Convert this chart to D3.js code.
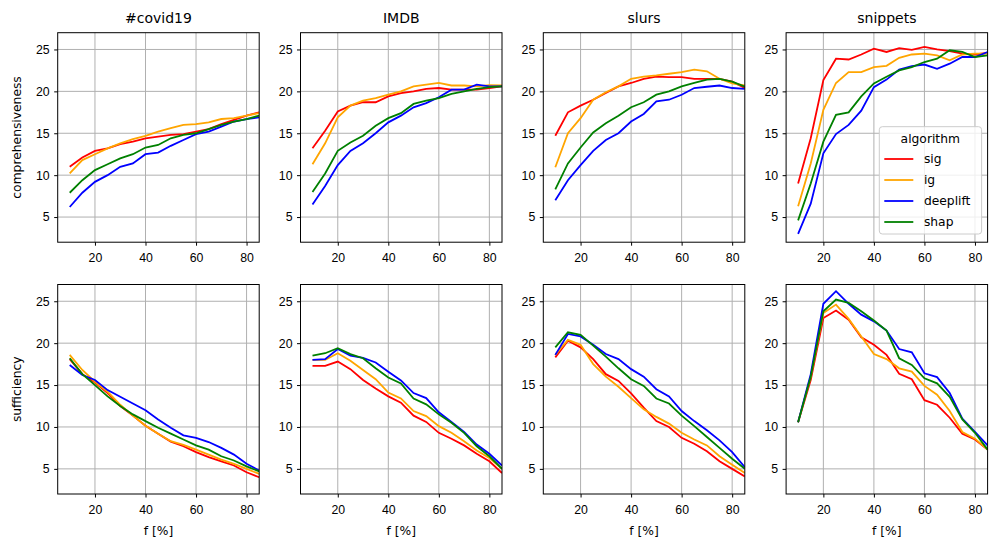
<!DOCTYPE html>
<html>
<head>
<meta charset="utf-8">
<script src="https://cdn.jsdelivr.net/npm/d3@7"></script>
<style>
  body { margin: 0; background: #fff; }
  svg { font-family: "DejaVu Sans", sans-serif; }
  .tick text { font-size: 12.3px; fill: #000; }
  .grid line { stroke: #b0b0b0; stroke-width: 1; }
  .curve { fill: none; stroke-width: 1.8; }
</style>
</head>
<body>
<svg id="graph"></svg>
<script>
var datasets = ['#covid19', 'IMDB', 'slurs', 'snippets'];
var metrics = ['comprehensiveness', 'sufficiency'];
var algorithms = ['sig', 'ig', 'deeplift', 'shap'];
var colors = ['red', 'orange', 'blue', 'green'];
var fValues = [10, 15, 20, 25, 30, 35, 40, 45, 50, 55, 60, 65, 70, 75, 80, 85];
var xTicks = [20, 40, 60, 80];
var yTicks = [5, 10, 15, 20, 25];

// comprehensiveness, one row per algorithm (sig, ig, deeplift, shap)
var compCovid = [
    [11.0, 12.1, 12.9, 13.2, 13.7, 14.0, 14.4, 14.6, 14.8, 14.9, 15.2, 15.5, 16.1, 16.6, 17.1, 17.5],
    [10.2, 11.8, 12.5, 13.2, 13.8, 14.3, 14.7, 15.2, 15.6, 16.0, 16.1, 16.3, 16.7, 16.8, 17.1, 17.4],
    [6.2, 7.9, 9.2, 10.0, 11.0, 11.4, 12.5, 12.7, 13.5, 14.2, 14.9, 15.2, 15.8, 16.4, 16.7, 16.9],
    [7.9, 9.4, 10.6, 11.3, 12.0, 12.5, 13.3, 13.6, 14.4, 14.8, 15.0, 15.5, 16.0, 16.4, 16.7, 17.1]
];
var compImdb = [
    [13.2, 15.3, 17.6, 18.3, 18.7, 18.7, 19.4, 19.8, 20.0, 20.3, 20.4, 20.2, 20.2, 20.2, 20.4, 20.6],
    [11.3, 13.8, 16.9, 18.3, 18.9, 19.2, 19.6, 20.0, 20.6, 20.8, 21.0, 20.7, 20.7, 20.6, 20.75, 20.7],
    [6.5, 8.7, 11.2, 12.9, 13.8, 15.0, 16.3, 17.1, 18.1, 18.6, 19.3, 20.2, 20.2, 20.8, 20.6, 20.6],
    [8.0, 10.2, 12.9, 13.9, 14.7, 15.9, 16.8, 17.4, 18.5, 18.9, 19.2, 19.7, 20.0, 20.3, 20.5, 20.6]
];
var compSlurs = [
    [14.7, 17.5, 18.3, 19.0, 19.8, 20.6, 21.0, 21.5, 21.75, 21.7, 21.7, 21.5, 21.5, 21.5, 21.15, 20.4],
    [10.95, 15.0, 16.8, 19.0, 19.9, 20.6, 21.5, 21.75, 21.9, 22.1, 22.3, 22.6, 22.4, 21.5, 20.95, 20.7],
    [7.0, 9.4, 11.2, 12.9, 14.2, 15.0, 16.4, 17.3, 18.8, 19.0, 19.6, 20.4, 20.55, 20.7, 20.4, 20.3],
    [8.3, 11.4, 13.3, 15.1, 16.2, 17.1, 18.1, 18.7, 19.6, 20.0, 20.6, 21.0, 21.4, 21.5, 21.15, 20.55]
];
var compSnippets = [
    [9.0, 14.4, 21.35, 23.9, 23.8, 24.4, 25.1, 24.7, 25.15, 24.95, 25.3, 25.0, 24.8, 24.5, 24.4, 24.6],
    [6.3, 11.4, 17.8, 21.0, 22.3, 22.3, 22.9, 23.05, 24.0, 24.4, 24.5, 24.3, 23.7, 24.4, 24.5, 24.5],
    [3.0, 6.6, 12.6, 14.9, 16.0, 17.7, 20.5, 21.4, 22.6, 23.0, 23.2, 22.7, 23.3, 24.1, 24.1, 24.7],
    [4.6, 9.0, 14.0, 17.2, 17.5, 19.4, 20.95, 21.75, 22.5, 22.9, 23.5, 23.9, 24.9, 24.7, 24.1, 24.3]
];

// sufficiency
var suffCovid = [
    [18.1, 16.3, 15.3, 14.05, 12.5, 11.35, 10.15, 9.2, 8.25, 7.7, 7.0, 6.4, 5.9, 5.4, 4.6, 4.0],
    [18.6, 16.8, 15.4, 14.2, 12.65, 11.35, 10.15, 9.2, 8.3, 7.85, 7.3, 6.7, 6.1, 5.6, 5.0, 4.4],
    [17.4, 16.2, 15.6, 14.4, 13.6, 12.8, 12.0, 10.9, 9.9, 9.0, 8.7, 8.2, 7.5, 6.7, 5.6, 4.8],
    [18.2, 16.3, 15.0, 13.65, 12.5, 11.5, 10.7, 9.9, 9.2, 8.5, 7.8, 7.3, 6.5, 6.0, 5.3, 4.7]
];
var suffImdb = [
    [17.3, 17.3, 17.8, 16.9, 15.6, 14.6, 13.65, 12.9, 11.35, 10.6, 9.3, 8.6, 7.8, 6.8, 5.9, 4.5],
    [18.0, 18.0, 18.8, 17.9, 16.8, 15.7, 14.1, 13.4, 11.9, 11.3, 10.1, 9.3, 8.3, 7.2, 6.3, 5.0],
    [18.0, 18.1, 19.3, 18.5, 18.25, 17.7, 16.6, 15.55, 14.05, 13.45, 11.75, 10.6, 9.4, 7.9, 6.8, 5.4],
    [18.5, 18.8, 19.4, 18.7, 18.2, 17.0, 15.9, 15.2, 13.4, 12.7, 11.5, 10.5, 9.3, 7.7, 6.5, 5.0]
];
var suffSlurs = [
    [18.3, 20.3, 19.5, 18.1, 16.3, 15.5, 14.0, 12.3, 10.7, 10.0, 8.7, 8.0, 7.1, 5.9, 5.0, 4.1],
    [18.6, 20.4, 19.8, 17.5, 16.0, 14.8, 13.45, 12.1, 11.2, 10.4, 9.3, 8.5, 7.8, 6.5, 5.5, 4.5],
    [18.6, 21.1, 20.8, 19.8, 18.7, 18.1, 16.9, 16.0, 14.5, 13.65, 11.9, 10.7, 9.6, 8.4, 7.0, 5.2],
    [19.5, 21.3, 21.0, 19.7, 18.4, 17.0, 15.7, 14.9, 13.4, 12.8, 11.35, 10.1, 8.8, 7.5, 6.2, 5.0]
];
var suffSnippets = [
    [10.55, 15.6, 23.0, 23.9, 22.8, 20.7, 19.8, 18.6, 16.35, 15.7, 13.2, 12.65, 11.1, 9.2, 8.5, 7.3],
    [10.55, 16.0, 23.6, 24.6, 22.9, 20.8, 18.7, 18.1, 17.0, 16.6, 14.9, 13.85, 11.9, 9.4, 8.6, 7.3],
    [10.55, 16.3, 24.7, 26.2, 24.7, 23.4, 22.6, 21.5, 19.3, 18.9, 16.4, 15.95, 14.05, 11.0, 9.4, 7.8],
    [10.55, 16.0, 23.8, 25.2, 24.8, 23.8, 22.7, 21.5, 18.2, 17.4, 15.8, 15.2, 13.6, 10.9, 9.3, 7.3]
];

var panels = [
    [compCovid, compImdb, compSlurs, compSnippets],
    [suffCovid, suffImdb, suffSlurs, suffSnippets]
];

//layout of the 2x4 grid
var W = 996, H = 547;
var left0 = 57.7, colStep = 242.8, pw = 201.5;
var rowTops = [32.7, 284.5], ph = 209.5;

var svg = d3.select('#graph')
    .attr('width', W)
    .attr('height', H);

var xScale = d3.scaleLinear().domain([5.25, 85]).range([0, pw]);
var yScale = d3.scaleLinear().domain([2, 27]).range([ph, 0]);

var line = d3.line()
    .x(function (d, i) { return xScale(fValues[i]); })
    .y(function (d) { return yScale(d); });

panels.forEach(function (row, r) {
    row.forEach(function (series, c) {
        var g = svg.append('g')
            .attr('transform', 'translate(' + (left0 + c * colStep) + ',' + rowTops[r] + ')');

        //grid
        var grid = g.append('g').attr('class', 'grid');
        grid.selectAll('.gx').data(xTicks).enter().append('line')
            .attr('x1', xScale).attr('x2', xScale)
            .attr('y1', 0).attr('y2', ph);
        grid.selectAll('.gy').data(yTicks).enter().append('line')
            .attr('x1', 0).attr('x2', pw)
            .attr('y1', yScale).attr('y2', yScale);

        var clipId = 'clip' + r + c;
        g.append('clipPath').attr('id', clipId)
            .append('rect').attr('width', pw).attr('height', ph);

        g.append('g').attr('clip-path', 'url(#' + clipId + ')')
            .selectAll('path').data(series).enter().append('path')
            .attr('class', 'curve')
            .attr('stroke', function (d, i) { return colors[i]; })
            .attr('d', line);

        //axes
        var xAxis = g.append('g')
            .attr('transform', 'translate(0,' + ph + ')')
            .call(d3.axisBottom(xScale).tickValues(xTicks).tickSize(3.5).tickPadding(4.5));
        var yAxis = g.append('g')
            .call(d3.axisLeft(yScale).tickValues(yTicks).tickSize(3.5).tickPadding(4.5));
        [xAxis, yAxis].forEach(function (a) {
            a.select('.domain').remove();
            a.selectAll('.tick line').attr('stroke', '#000').attr('stroke-width', 1);
            a.selectAll('.tick text').attr('font-family', null).attr('font-size', null);
        });
        xAxis.selectAll('.tick text').attr('dy', '0.95em');

        g.append('rect')
            .attr('width', pw).attr('height', ph)
            .attr('fill', 'none').attr('stroke', '#000').attr('stroke-width', 1);

        if (r === 0) {
            g.append('text')
                .attr('x', pw / 2).attr('y', -9.5)
                .attr('text-anchor', 'middle')
                .style('font-size', '14px')
                .text(datasets[c]);
        } else {
            g.append('text')
                .attr('x', pw / 2).attr('y', ph + 41)
                .attr('text-anchor', 'middle')
                .style('font-size', '12.3px')
                .text('f [%]');
        }
        if (c === 0) {
            g.append('text')
                .attr('transform', 'translate(-36.5,' + (ph / 2) + ') rotate(-90)')
                .attr('text-anchor', 'middle')
                .style('font-size', '12.3px')
                .text(metrics[r]);
        }

        //legend in the top right panel
        if (r === 0 && c === 3) {
            var lg = g.append('g').attr('transform', 'translate(' + (pw - 108.3) + ',94)');
            lg.append('rect')
                .attr('width', 102.3).attr('height', 107.3)
                .attr('rx', 3)
                .attr('fill', '#fff').attr('fill-opacity', 0.8)
                .attr('stroke', '#ccc').attr('stroke-width', 1);
            lg.append('text')
                .attr('x', 51).attr('y', 16)
                .attr('text-anchor', 'middle')
                .style('font-size', '12.3px')
                .text('algorithm');
            algorithms.forEach(function (name, i) {
                var yy = 32.3 + i * 21;
                lg.append('line')
                    .attr('x1', 5).attr('x2', 34)
                    .attr('y1', yy).attr('y2', yy)
                    .attr('stroke', colors[i]).attr('stroke-width', 1.8);
                lg.append('text')
                    .attr('x', 44.6).attr('y', yy + 4.3)
                    .style('font-size', '12.3px')
                    .text(name);
            });
        }
    });
});
</script>
</body>
</html>
